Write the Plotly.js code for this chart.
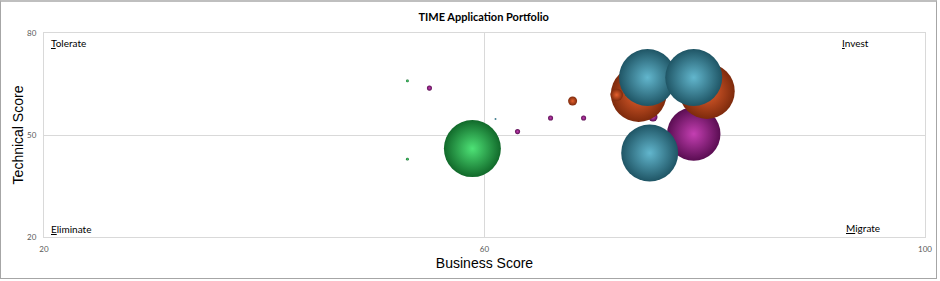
<!DOCTYPE html>
<html>
<head>
<meta charset="utf-8">
<script src="https://cdn.plot.ly/plotly-3.0.1.min.js"></script>
<style>
  html, body { margin: 0; padding: 0; background: #fff; }
  #wrap { position: relative; width: 940px; height: 281px; }
  #chart { width: 940px; height: 281px; }
  #frame { position: absolute; left: 0; top: 0; width: 937px; height: 279px; box-sizing: border-box;
           border: 1px solid #a6a6a6; border-top: 2px solid #bfbfbf; pointer-events: none; }
</style>
</head>
<body>
<div id="wrap"><div id="chart"></div><div id="frame"></div></div>
<script>
// Series data (Business Score = x, Technical Score = y, bubble size)
const purpleX = [55, 63, 66, 69, 75.3, 79];
const purpleY = [63.8, 51, 55, 55, 55.3, 50.3];
const purpleS = [0.8, 0.8, 0.8, 0.8, 2.5, 88];

const orangeX = [74, 80.2, 68, 72];
const orangeY = [62, 62.9, 60, 61.8];
const orangeS = [95, 95, 2.5, 4.8];

const greenX = [58.9, 53, 53, 72.9];
const greenY = [46, 65.9, 42.9, 61.8];
const greenS = [100, 0.25, 0.25, 0.25];

const tealX = [74.8, 79, 75, 61];
const tealY = [66.9, 66.9, 44.7, 54.7];
const tealS = [100, 100, 100, 0.1];

const xTicks = [20, 60, 100];
const yTicks = [20, 50, 80];

const SIZEREF = 0.0616;

function bubbles(name, x, y, s, edge, center) {
  return {
    type: 'scatter', mode: 'markers', name: name, x: x, y: y,
    hoverinfo: 'x+y',
    marker: {
      size: s, sizemode: 'area', sizeref: SIZEREF, sizemin: 0, opacity: 1,
      color: edge, line: { width: 0 },
      gradient: { type: 'radial', color: center }
    }
  };
}

const data = [
  bubbles('Purple', purpleX, purpleY, purpleS, '#5a0d52', '#c43fb2'),
  bubbles('Orange', orangeX, orangeY, orangeS, '#7d2a0c', '#e5602e'),
  bubbles('Green', greenX, greenY, greenS, '#11692a', '#4ee276'),
  bubbles('Teal', tealX, tealY, tealS, '#1f5565', '#62b6cd')
];

const qFont = { family: 'Lato, "Open Sans", sans-serif', size: 10, color: '#000' };
const layout = {
  width: 940, height: 281,
  margin: { l: 44, r: 15, t: 33, b: 44 },
  paper_bgcolor: '#fff', plot_bgcolor: '#fff',
  showlegend: false,
  title: { text: '<b>TIME Application Portfolio</b>', x: 0.5145, xanchor: 'center', y: 0.94, yanchor: 'middle',
           font: { family: 'Lato, sans-serif', size: 11, color: '#000' } },
  xaxis: {
    range: [20, 100], tickvals: xTicks, ticktext: xTicks.map(String),
    showgrid: true, gridcolor: '#d9d9d9', gridwidth: 1, zeroline: false,
    showline: true, linecolor: '#d9d9d9', linewidth: 1, mirror: true,
    ticks: '', ticklabelstandoff: 4,
    tickfont: { family: 'Lato, sans-serif', size: 8, color: '#595959' },
    title: { text: 'Business Score', standoff: 5,
             font: { family: '"Liberation Sans", Arial, sans-serif', size: 14, color: '#000' } }
  },
  yaxis: {
    range: [20, 80], tickvals: yTicks, ticktext: yTicks.map(String),
    showgrid: true, gridcolor: '#d9d9d9', gridwidth: 1, zeroline: false,
    showline: true, linecolor: '#d9d9d9', linewidth: 1, mirror: true,
    ticks: '', ticklabelstandoff: 5,
    tickfont: { family: 'Lato, sans-serif', size: 8, color: '#595959' },
    title: { text: 'Technical Score', standoff: 0,
             font: { family: '"Liberation Sans", Arial, sans-serif', size: 14, color: '#000' } }
  },
  annotations: [
    { text: '<u>T</u>olerate', xref: 'paper', yref: 'paper', x: 0.006, y: 0.951, xanchor: 'left', yanchor: 'middle', showarrow: false, font: qFont },
    { text: '<u>I</u>nvest', xref: 'paper', yref: 'paper', x: 0.904, y: 0.951, xanchor: 'left', yanchor: 'middle', showarrow: false, font: qFont },
    { text: '<u>E</u>liminate', xref: 'paper', yref: 'paper', x: 0.006, y: 0.04, xanchor: 'left', yanchor: 'middle', showarrow: false, font: qFont },
    { text: '<u>M</u>igrate', xref: 'paper', yref: 'paper', x: 0.908, y: 0.044, xanchor: 'left', yanchor: 'middle', showarrow: false, font: qFont }
  ]
};

Plotly.newPlot('chart', data, layout, { displayModeBar: false, staticPlot: true });
</script>
</body>
</html>
